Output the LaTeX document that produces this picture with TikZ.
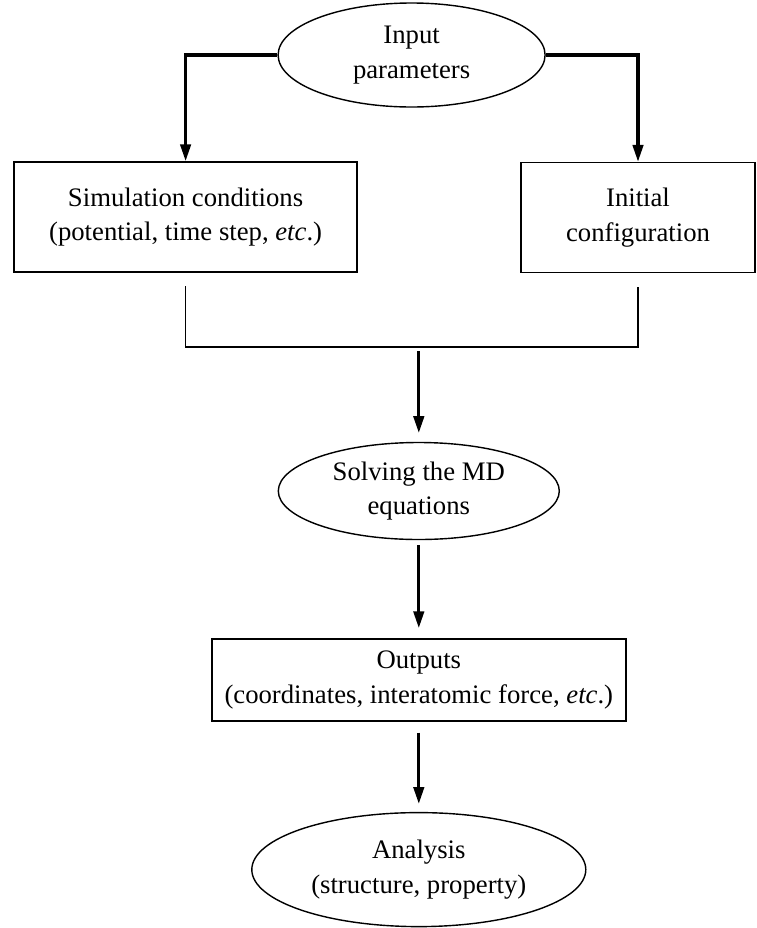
\documentclass[tikz,border=0pt]{standalone}
\usepackage{fontspec}
\setmainfont{Liberation Serif}
\usetikzlibrary{positioning,arrows.meta,shapes.geometric}

\begin{document}
\begin{tikzpicture}[font=\fontsize{19}{24.5}\selectfont,
    oval/.style={ellipse,draw,line width=1pt,inner sep=0pt,align=center},
    rect/.style={rectangle,draw,line width=1.2pt,inner sep=0pt,align=center},
    flow/.style={-{Triangle[length=4.2mm,width=2.6mm]},line width=2.2pt}]
\useasboundingbox (0,0) rectangle (18.9,-23.2);

    \node[oval,minimum width=6.675cm,minimum height=2.6cm] (n1) at (10.29,-1.375) {Input\\parameters};
    \node[rect,minimum width=8.575cm,minimum height=2.75cm] (n2) at (4.64,-5.425) {Simulation conditions\\(potential, time step, \textit{etc}.)};
    \node[rect,minimum width=5.85cm,minimum height=2.75cm] (n3) at (15.95,-5.44) {Initial\\configuration};
    \node[oval,minimum width=7.025cm,minimum height=2.425cm] (n4) at (10.47,-12.275) {Solving the MD\\equations};
    \node[rect,minimum width=10.35cm,minimum height=2.05cm] (n5) at (10.47,-17) {Outputs\\(coordinates, interatomic force, \textit{etc}.)};
    \node[oval,minimum width=8.35cm,minimum height=2.85cm] (n6) at (10.47,-21.74) {Analysis\\(structure, property)};
    \coordinate (m) at (10.47,-8.675);

    \draw[flow] (n1.west) -| (n2.north);
    \draw[flow] (n1.east) -| (n3.north);
    %bracket below the two boxes
    \draw[line width=1pt] ([yshift=-3.3mm]n2.south) |- (m) -| ([yshift=-3.3mm]n3.south);

\draw[flow, shorten <=1mm, shorten >=2.2mm] (m) -- (n4);
\draw[flow, shorten <=1.3mm, shorten >=2.5mm] (n4) -- (n5);
\draw[flow, shorten <=2.7mm, shorten >=2mm] (n5) -- (n6);

\end{tikzpicture}
\end{document}
